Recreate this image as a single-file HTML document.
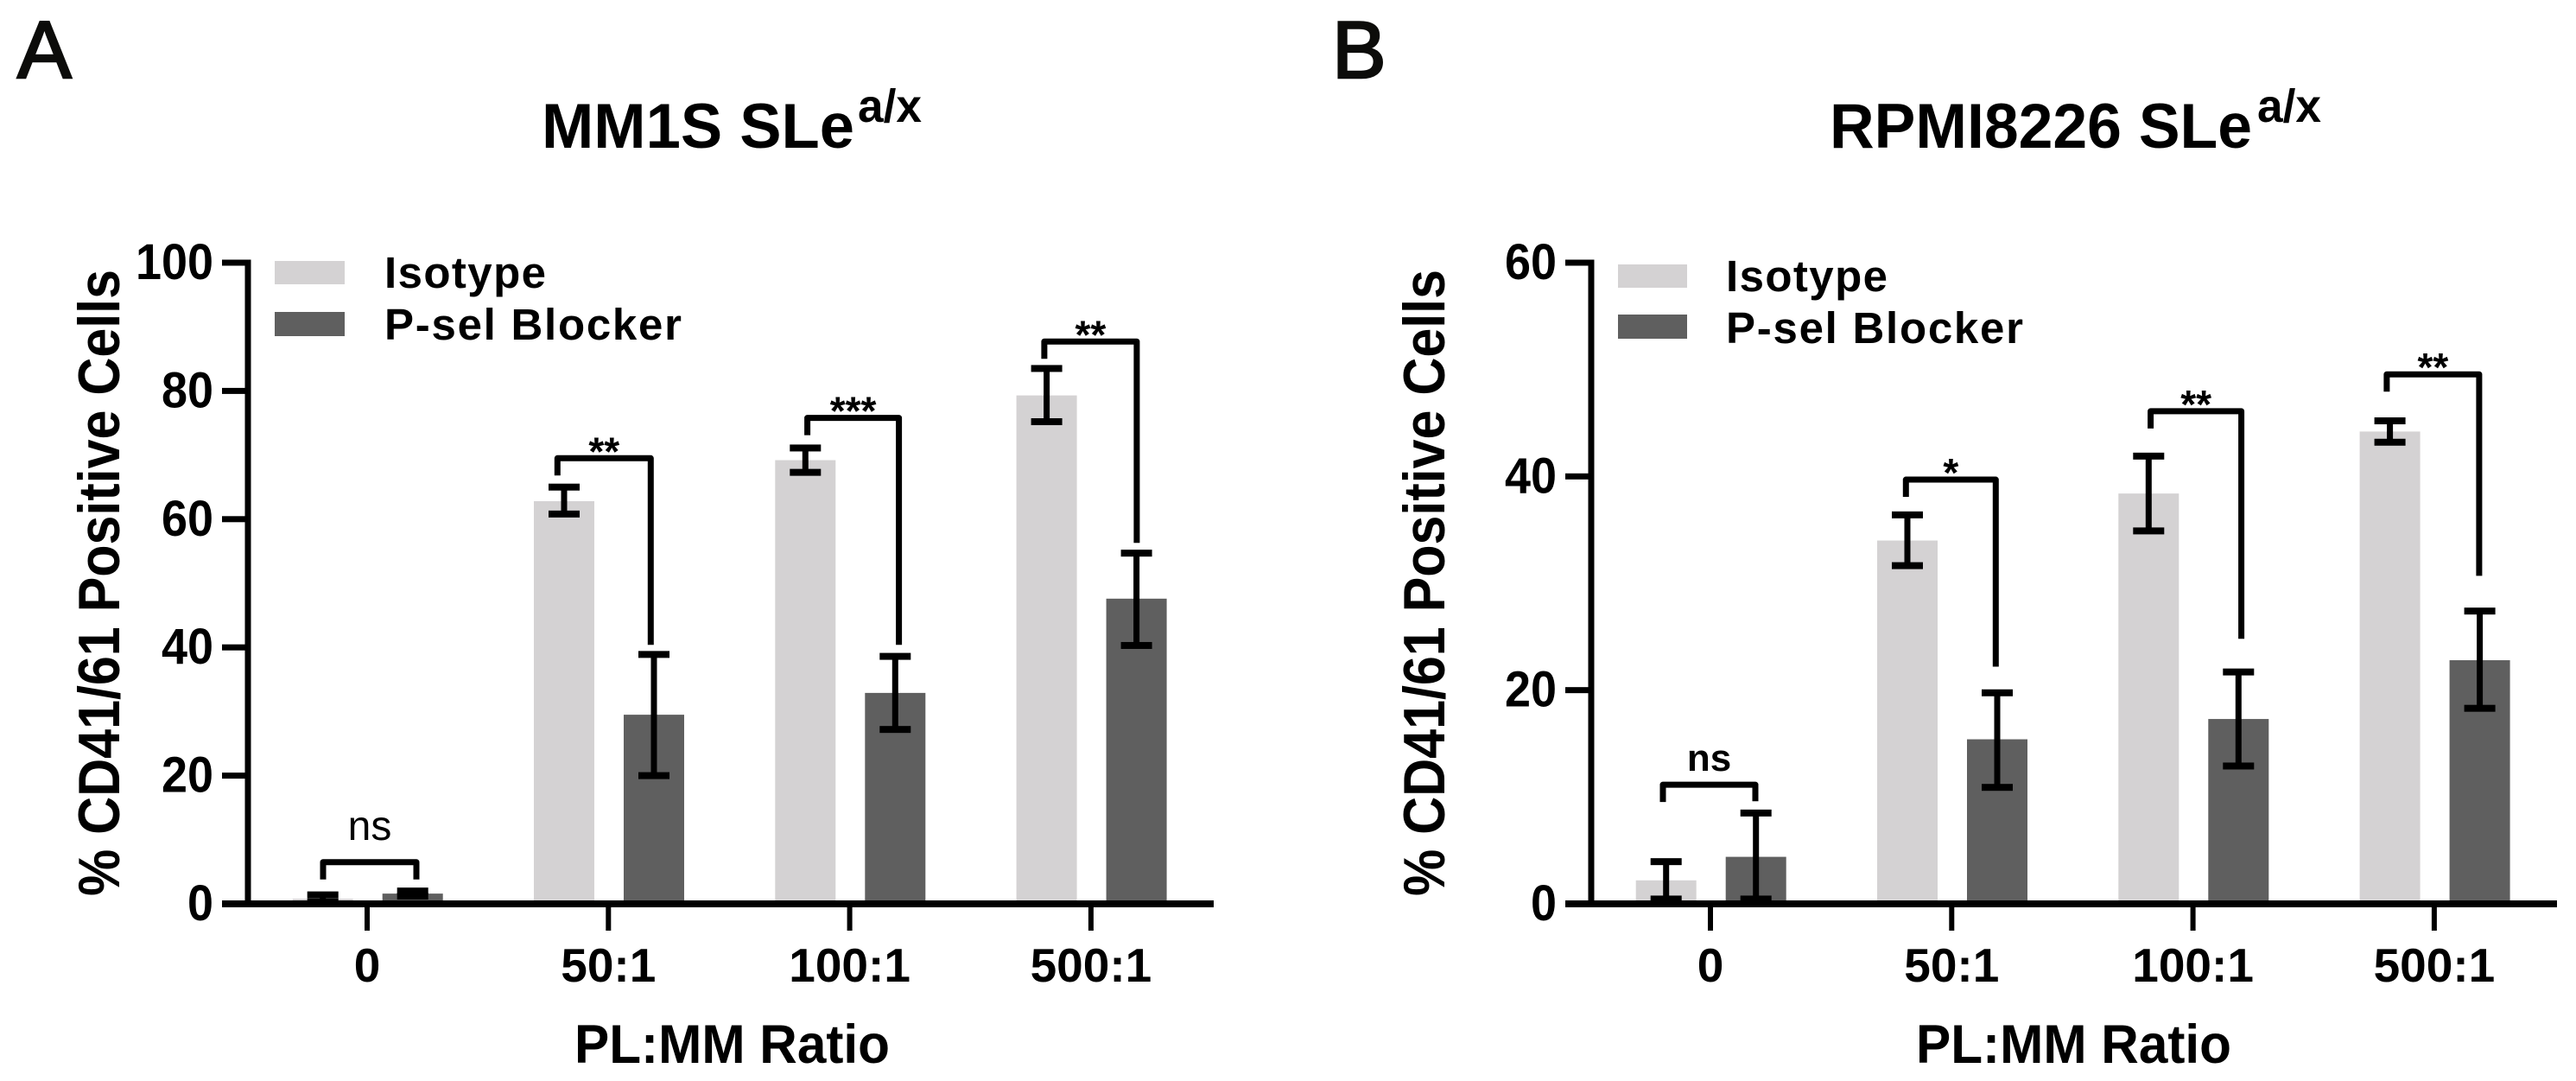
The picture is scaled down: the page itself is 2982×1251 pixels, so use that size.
<!DOCTYPE html>
<html lang="en">
<head>
<meta charset="utf-8">
<title>CD41/61 Positive Cells</title>
<style>
  html, body { margin: 0; padding: 0; background: #ffffff; }
  svg { display: block; }
  text { font-family: "Liberation Sans", sans-serif; fill: #000000; }
  .b { font-weight: 700; }
  .panel-letter { stroke: #0c0c0a; stroke-width: 2.5; fill: #0c0c0a; }
</style>
</head>
<body>
<svg id="figure" xmlns="http://www.w3.org/2000/svg" width="2982" height="1251" viewBox="0 0 2982 1251">
  <rect x="0" y="0" width="2982" height="1251" fill="#ffffff"/>

  <text class="panel-letter" x="20" y="90" font-size="94">A</text>
  <text class="panel-letter" x="1542" y="90" font-size="94">B</text>

  <text class="b" x="627" y="171" font-size="73" textLength="362" lengthAdjust="spacingAndGlyphs">MM1S SLe</text>
  <text class="b" x="993" y="141" font-size="54" textLength="74" lengthAdjust="spacingAndGlyphs">a/x</text>
  <text class="b" x="2118" y="171" font-size="73" textLength="489" lengthAdjust="spacingAndGlyphs">RPMI8226 SLe</text>
  <text class="b" x="2613" y="141" font-size="54" textLength="74" lengthAdjust="spacingAndGlyphs">a/x</text>

  <text class="b" transform="translate(138 1037) rotate(-90)" font-size="68" textLength="725" lengthAdjust="spacingAndGlyphs">% CD41/61 Positive Cells</text>
  <text class="b" transform="translate(1672 1037) rotate(-90)" font-size="68" textLength="725" lengthAdjust="spacingAndGlyphs">% CD41/61 Positive Cells</text>

  <text class="b" x="665" y="1230" font-size="63" textLength="365" lengthAdjust="spacingAndGlyphs">PL:MM Ratio</text>
  <text class="b" x="2218" y="1230" font-size="63" textLength="365" lengthAdjust="spacingAndGlyphs">PL:MM Ratio</text>

  <rect x="318" y="302" width="81" height="27" fill="#d4d2d3"/>
  <rect x="318" y="361" width="81" height="28" fill="#5f5f5f"/>
  <text class="b" x="445" y="333" font-size="51" textLength="187">Isotype</text>
  <text class="b" x="445" y="393" font-size="51" textLength="344">P-sel Blocker</text>

  <rect x="1873" y="306" width="80" height="27" fill="#d4d2d3"/>
  <rect x="1873" y="364" width="80" height="28" fill="#5f5f5f"/>
  <text class="b" x="1998" y="337" font-size="51" textLength="187">Isotype</text>
  <text class="b" x="1998" y="397" font-size="51" textLength="344">P-sel Blocker</text>
</svg>

<script>
const categories = ['0', '50:1', '100:1', '500:1'];

const yTicksA = [0, 20, 40, 60, 80, 100];
const isotypeA = [0.8, 62.8, 69.2, 79.3];
const blockerA = [1.6, 29.5, 32.9, 47.6];
const isotypeHiA = [1.4, 65.0, 71.1, 83.5];
const isotypeLoA = [0.3, 60.8, 67.3, 75.2];
const blockerHiA = [2.0, 38.9, 38.6, 54.7];
const blockerLoA = [1.2, 20.0, 27.2, 40.3];
const bracketTopA = [6.5, 69.5, 75.8, 87.7];
const bracketEndA = [3.8, 40.4, 40.4, 56.3];
const bracketTextA = ['ns', '**', '***', '**'];

const yTicksB = [0, 20, 40, 60];
const isotypeB = [2.2, 34.0, 38.4, 44.2];
const blockerB = [4.4, 15.4, 17.3, 22.8];
const isotypeHiB = [3.95, 36.4, 41.9, 45.2];
const isotypeLoB = [0.45, 31.65, 34.9, 43.2];
const blockerHiB = [8.5, 19.75, 21.7, 27.4];
const blockerLoB = [0.45, 10.9, 12.9, 18.3];
const bracketTopB = [11.15, 39.7, 46.1, 49.55];
const bracketEndB = [9.6, 22.2, 24.8, 30.7];
const bracketTextB = ['ns', '*', '**', '**'];

const NS = 'http://www.w3.org/2000/svg';
const svg = document.getElementById('figure');
const LIGHT = '#d4d2d3';
const DARK = '#5f5f5f';

function make(tag, attrs) {
  const el = document.createElementNS(NS, tag);
  for (const k in attrs) el.setAttribute(k, attrs[k]);
  svg.appendChild(el);
  return el;
}

function drawPanel(p) {
  const y = v => p.y0 - v / p.yMax * (p.y0 - p.yTop);
  const x = i => p.x0 + 138 + i * 279.3;
  const bw = 70;
  const off = 52;
  const nudge = 0.7;

  // bars
  categories.forEach((c, i) => {
    const iso = make('rect', { x: x(i) + nudge - off - bw / 2, y: y(p.iso[i]), width: bw, height: p.y0 - y(p.iso[i]), fill: LIGHT });
    
    
    const blk = make('rect', { x: x(i) + nudge + off - bw / 2, y: y(p.blk[i]), width: bw, height: p.y0 - y(p.blk[i]), fill: DARK });
    
    
  });

  // error bars
  function errorBar(cx, hi, lo) {
    const stem = make('rect', { x: cx - 3.5, y: y(hi), width: 7, height: y(lo) - y(hi), fill: '#000' });
    
    
    const capH = make('rect', { x: cx - 18, y: y(hi) - 4, width: 36, height: 8, fill: '#000' });
    
    
    const capL = make('rect', { x: cx - 18, y: y(lo) - 4, width: 36, height: 8, fill: '#000' });
    
    
  }
  categories.forEach((c, i) => {
    errorBar(x(i) + nudge - off, p.isoHi[i], p.isoLo[i]);
    errorBar(x(i) + nudge + off, p.blkHi[i], p.blkLo[i]);
  });

  // y axis
  const yLine = make('rect', { x: p.x0 - 3.5, y: p.yTop - 3.5, width: 7, height: p.y0 - p.yTop + 3.5, fill: '#000' });
  
  
  p.yTicks.forEach(v => {
    const t = make('rect', { x: p.x0 - 30, y: y(v) - 3.5, width: 30, height: 7, fill: '#000' });
    
    
    const l = make('text', {
      x: p.x0 - 40, y: y(v) + 19, 'font-size': 58, 'text-anchor': 'end', 'class': 'b',
      textLength: String(v).length * 30, lengthAdjust: 'spacingAndGlyphs'
    });
    
    
    l.textContent = v;
  });

  // x axis
  const xLine = make('rect', { x: p.x0 - 30, y: p.y0 - 4, width: 1148, height: 8, fill: '#000' });
  
  
  categories.forEach((c, i) => {
    const t = make('rect', { x: x(i) - 3, y: p.y0, width: 6, height: 31, fill: '#000' });
    
    
    const l = make('text', { x: x(i), y: 1136, 'font-size': 55, 'text-anchor': 'middle', 'class': 'b' });
    
    
    l.textContent = c;
  });

  // significance brackets
  categories.forEach((c, i) => {
    const left = x(i) + p.shift[i][0];
    const right = x(i) + p.shift[i][1];
    const top = y(p.brTop[i]);
    const end = y(p.brEnd[i]);
    const br = make('path', {
      d: 'M' + left + ' ' + (top + 20) + 'V' + top + 'H' + right + 'V' + end,
      fill: 'none', stroke: '#000', 'stroke-width': 7, 'stroke-linejoin': 'round'
    });
    
    
    const isNs = p.brText[i] === 'ns';
    const label = make('text', {
      x: (left + right) / 2,
      y: isNs ? top - p.nsLift : top + 8,
      'font-size': isNs ? p.nsSize : 46,
      'font-weight': isNs ? p.nsWeight : 700,
      'text-anchor': 'middle'
    });
    
    
    label.textContent = p.brText[i];
  });
}

drawPanel({
  x0: 287, y0: 1046, yTop: 304, yMax: 100, yTicks: yTicksA,
  iso: isotypeA, blk: blockerA, isoHi: isotypeHiA, isoLo: isotypeLoA, blkHi: blockerHiA, blkLo: blockerLoA,
  brTop: bracketTopA, brEnd: bracketEndA, brText: bracketTextA,
  shift: [[-51, 57], [-59, 49], [-49, 57], [-54, 53]],
  nsLift: 26, nsSize: 48, nsWeight: 400
});

drawPanel({
  x0: 1842, y0: 1046, yTop: 304, yMax: 60, yTicks: yTicksB,
  iso: isotypeB, blk: blockerB, isoHi: isotypeHiB, isoLo: isotypeLoB, blkHi: blockerHiB, blkLo: blockerLoB,
  brTop: bracketTopB, brEnd: bracketEndB, brText: bracketTextB,
  shift: [[-55, 52], [-53, 51], [-49, 56], [-55, 52]],
  nsLift: 16, nsSize: 44, nsWeight: 700
});
</script>
</body>
</html>
